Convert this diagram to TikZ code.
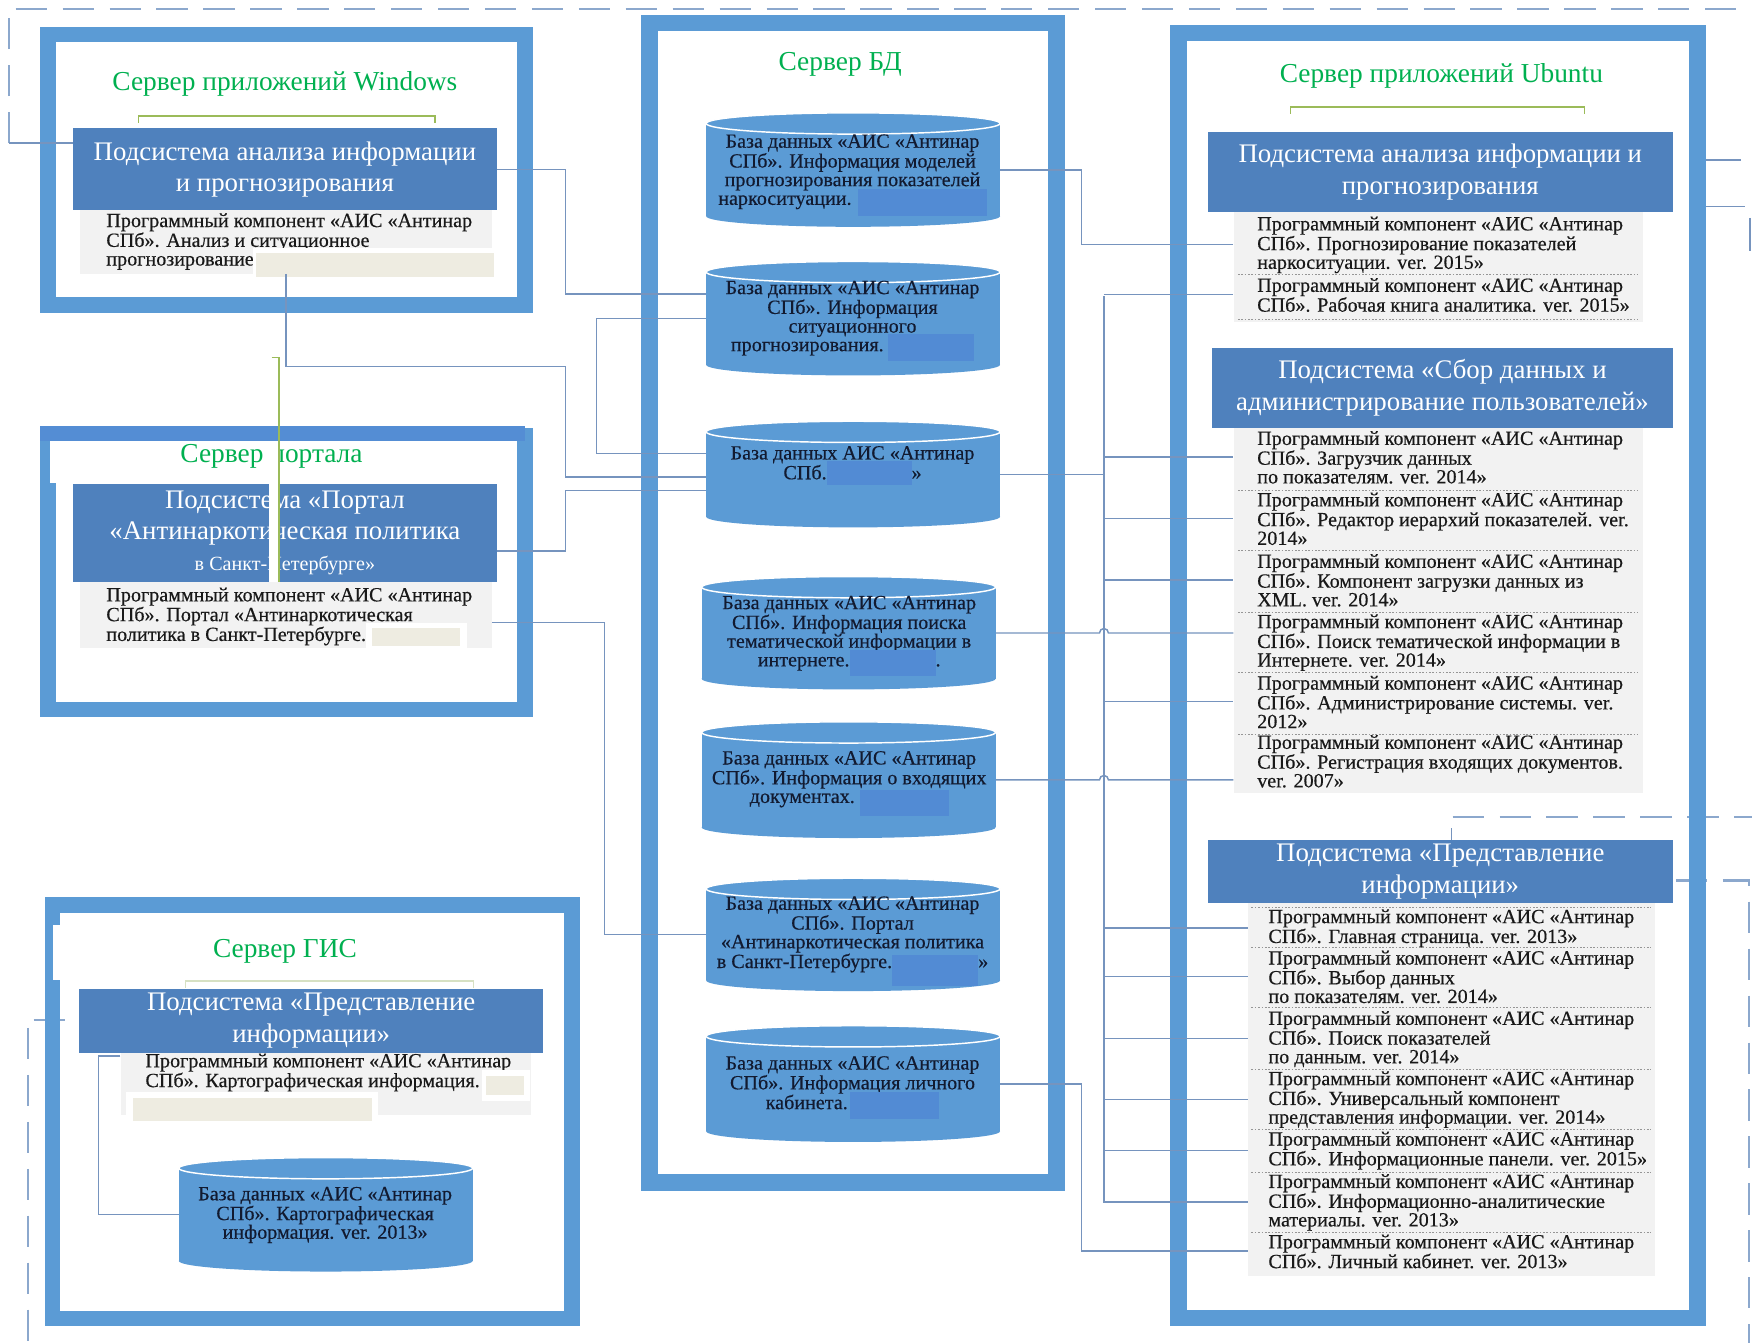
\documentclass[tikz,border=0pt]{standalone}
\usepackage{fontspec}
\setmainfont{Liberation Serif}
\newfontfamily\bodyfam{Liberation Serif}[FakeBold=0.4]
\usetikzlibrary{calc}
\definecolor{frameblue}{RGB}{91,155,213}
\definecolor{frametop}{RGB}{84,141,212}
\definecolor{hdrblue}{RGB}{79,129,189}
\definecolor{cylblue}{RGB}{91,155,213}
\definecolor{redblue}{RGB}{82,139,212}
\definecolor{beige}{RGB}{238,236,225}
\definecolor{greyfill}{RGB}{242,242,242}
\definecolor{connc}{RGB}{118,148,190}
\definecolor{dashc}{RGB}{140,168,205}
\definecolor{sepc}{RGB}{150,150,150}
\definecolor{titlegreen}{RGB}{0,176,80}
\definecolor{bracketc}{RGB}{155,187,89}
\definecolor{bracketl}{RGB}{215,225,195}
\definecolor{txtdark}{RGB}{25,25,25}
\definecolor{dbtext}{RGB}{18,26,48}
\newcommand\mybody{\bodyfam\fontsize{18}{16.7}\selectfont}
\newcommand\myhdr{\fontsize{24}{28}\selectfont}
\newcommand\myhdrs{\fontsize{18}{22}\selectfont}
\newcommand\myttl{\fontsize{24.5}{28}\selectfont}
\newcommand\myfl{\rule{0pt}{13pt}}
\newcommand\mypk{\myfl Программный компонент «АИС «Антинар}
\newcommand\myred[3]{\smash{\textcolor{redblue}{\rule[-#2pt]{#1pt}{#3pt}}}}
\newcommand\mycyl[5]{%
 \pgfmathsetmacro\cylcx{(#2+#3)/2}%
 \pgfmathsetmacro\cylrx{(#3-#2)/2}%
 \pgfmathsetmacro\cylcy{(#4+#5)/2}%
 \pgfmathsetmacro\cylw{#3-#2}%
 \pgfmathsetmacro\cylh{#5-#4}%
 \fill[cylblue] (#2,#4+9.5) rectangle (#3,#5-9.5);
 \fill[cylblue] (\cylcx,#5-9.5) ellipse [x radius=\cylrx, y radius=9.5];
 \filldraw[fill=cylblue, draw=white, line width=1.3pt] (\cylcx,#4+9.5) ellipse [x radius=\cylrx, y radius=9.5];
 \node[inner sep=0pt, minimum width=\cylw pt, minimum height=\cylh pt] (#1) at (\cylcx,\cylcy) {};
}
\begin{document}
\begin{tikzpicture}[x=1pt,y=-1pt,
 srvframe/.style={draw=frameblue, line width=14pt, inner sep=0pt},
 hdr/.style={fill=hdrblue, text=white, align=center, inner sep=0pt, font=\myhdr},
 greybox/.style={fill=greyfill, inner sep=0pt, draw=none},
 lst/.style={anchor=north west, align=left, inner sep=0pt, text=txtdark, font=\mybody},
 dbt/.style={anchor=north, align=center, inner sep=0pt, text=dbtext, font=\mybody},
 ttl/.style={text=titlegreen, font=\myttl, inner sep=0pt},
 conn/.style={draw=connc, line width=1.3pt},
 dashl/.style={draw=dashc, line width=2pt, dash pattern=on 28pt off 14pt},
 sepline/.style={draw=sepc, line width=0.8pt, dash pattern=on 1.5pt off 1.5pt},
 grnbracket/.style={draw=bracketc, line width=1.6pt}]
\useasboundingbox (0,0) rectangle (1568,1202);
\fill[white] (0,0) rectangle (1568,1202);

% outer dashed lines
\coordinate (tl) at (8,128);
\draw[dashl] (tl) -- (8,8) -- (1568,8);
\draw[dashl] (30,913) -- (62,913);
\draw[dashl] (25,920) -- (25,1202);
\draw[dashl] (1300,731) -- (1568,731);
\draw[dashl] (1500,788) -- (1565,788) -- (1565,1202);
\draw[conn] (1527,143) -- (1558,143);
\draw[conn] (1527,185) -- (1562,185);
\draw[conn] (1566,195) -- (1566,225);

% server frames
\node[srvframe, minimum width=427pt, minimum height=242pt] (wf) at (256.5,152) {};
\node[srvframe, minimum width=427pt, minimum height=245pt] (pf) at (256.5,512.5) {};
\node[srvframe, minimum width=465pt, minimum height=370pt] (gf) at (279.5,995) {};
\node[srvframe, line width=15pt, minimum width=364pt, minimum height=1038pt] (df) at (763.5,539.5) {};
\node[srvframe, line width=15pt, minimum width=465pt, minimum height=1150pt] (uf) at (1287,604.5) {};
\fill[frametop] (36,381) rectangle (470,395);
\fill[white] (45,395) rectangle (463,432);
\fill[white] (47,828) rectangle (400,877);

% titles
\node[ttl] (wtt) at (255,75) {Сервер приложений Windows};
\node[ttl] (ptt) at (243,408) {Сервер портала};
\node[ttl] (gtt) at (255,851) {Сервер ГИС};
\node[ttl] (dtt) at (752,58) {Сервер БД};
\node[ttl] (utt) at (1290,68) {Сервер приложений Ubuntu};

% brackets
\draw[grnbracket] (124,110) -- (124,104) -- (389,104) -- (389,110);
\draw[grnbracket] (1155,102) -- (1155,96) -- (1418,96) -- (1418,102);
\draw[draw=bracketl, line width=1.2pt] (166,884) -- (166,878) -- (424,878) -- (424,884);

% connector bend points
\draw[conn] (tl) -- (65,128);
\coordinate (a1) at (506,263);
\coordinate (a2) at (534,285);
\coordinate (a3) at (534,406);
\coordinate (a4) at (506,328);
\coordinate (a5) at (506,427);
\coordinate (a6) at (506,493);
\coordinate (a7) at (506,439);
\coordinate (a8) at (541,557);
\coordinate (a9) at (88,945);
\coordinate (k1) at (968,0);
\coordinate (busT) at (988,265);
\coordinate (busB) at (988,1077);

% grey boxes
\node[greybox, minimum width=368pt, minimum height=57pt] (wg) at (256,216.5) {};
\node[greybox, minimum width=368pt, minimum height=59pt] (pg) at (256,550.5) {};
\node[greybox, minimum width=367pt, minimum height=56pt] (gg) at (291.5,970) {};
\node[greybox, minimum width=366pt, minimum height=98pt] (ug1) at (1287,239) {};
\node[greybox, minimum width=366pt, minimum height=327pt] (ug2) at (1287,546.5) {};
\node[greybox, minimum width=364pt, minimum height=334pt] (ug3) at (1299,975) {};

% cylinders
\mycyl{db1}{632}{895}{101}{203}
\mycyl{db2}{632}{895}{234}{336}
\mycyl{db3}{632}{895}{377}{472}
\mycyl{db4}{628}{891}{516}{617}
\mycyl{db5}{628}{891}{646}{750}
\mycyl{db6}{632}{895}{786}{887}
\mycyl{db7}{632}{895}{918}{1022}
\mycyl{gdb}{160}{423}{1036}{1138}

% headers
\node[hdr, minimum width=380pt, minimum height=73pt] (wh) at (255,151.5) {Подсистема анализа информации\\и прогнозирования};
\node[hdr, minimum width=380pt, minimum height=88pt] (ph) at (255,477) {Подсистема «Портал\\«Антинаркотическая политика\\{\myhdrs в Санкт-Петербурге»}};
\node[hdr, minimum width=415pt, minimum height=57pt] (gh) at (278.5,913.5) {Подсистема «Представление\\информации»};
\node[hdr, minimum width=416pt, minimum height=72pt] (uh1) at (1289,154) {Подсистема анализа информации и\\прогнозирования};
\node[hdr, minimum width=412pt, minimum height=72pt] (uh2) at (1291,347) {Подсистема «Сбор данных и\\администрирование пользователей»};
\node[hdr, minimum width=416pt, minimum height=56pt] (uh3) at (1289,780) {Подсистема «Представление\\информации»};

% white strip and green line in portal
\fill[white] (241,397) rectangle (250,521);
\draw[grnbracket] (243,320) -- (250,320) -- (250,521);

% list texts
\node[lst] (wt) at (95,190) {\mypk\\СПб». Анализ и ситуационное\\прогнозирование};
\node[lst] (pt) at (95,525) {\mypk\\СПб». Портал «Антинаркотическая\\политика в Санкт-Петербурге.};
\node[lst] (gt) at (130,942) {\mypk\\СПб». Картографическая информация.};
\fill[white] (226,222) rectangle (442,248);
\fill[beige] (229,226) rectangle (442,248);
\fill[white] (328,558) rectangle (418,583);
\fill[beige] (333,562) rectangle (412,578);
\fill[white] (113,977) rectangle (338,1005);
\fill[beige] (119,983) rectangle (333,1003);
\fill[white] (431,958) rectangle (474,985);
\fill[beige] (435,963) rectangle (469,980);

\node[lst] (u1a) at (1125,193) {\mypk\\СПб». Прогнозирование показателей\\наркоситуации. ver. 2015»};
\node[lst] (u1b) at (1125,248) {\mypk\\СПб». Рабочая книга аналитика. ver. 2015»};
\node[lst] (u2a) at (1125,385) {\mypk\\СПб». Загрузчик данных\\по показателям. ver. 2014»};
\node[lst] (u2b) at (1125,440) {\mypk\\СПб». Редактор иерархий показателей. ver.\\2014»};
\node[lst] (u2c) at (1125,495) {\mypk\\СПб». Компонент загрузки данных из\\XML. ver. 2014»};
\node[lst] (u2d) at (1125,549) {\mypk\\СПб». Поиск тематической информации в\\Интернете. ver. 2014»};
\node[lst] (u2e) at (1125,604) {\mypk\\СПб». Администрирование системы. ver.\\2012»};
\node[lst] (u2f) at (1125,657) {\mypk\\СПб». Регистрация входящих документов.\\ver. 2007»};
\node[lst] (u3a) at (1135,813) {\mypk\\СПб». Главная страница. ver. 2013»};
\node[lst] (u3b) at (1135,850) {\mypk\\СПб». Выбор данных\\по показателям. ver. 2014»};
\node[lst] (u3c) at (1135,904) {\mypk\\СПб». Поиск показателей\\по данным. ver. 2014»};
\node[lst] (u3d) at (1135,958) {\mypk\\СПб». Универсальный компонент\\представления информации. ver. 2014»};
\node[lst] (u3e) at (1135,1012) {\mypk\\СПб». Информационные панели. ver. 2015»};
\node[lst] (u3f) at (1135,1050) {\mypk\\СПб». Информационно-аналитические\\материалы. ver. 2013»};
\node[lst] (u3g) at (1135,1104) {\mypk\\СПб». Личный кабинет. ver. 2013»};

\foreach \yy in {246,286,439,493,548,602,657} \draw[sepline] (1108,\yy) -- (1466,\yy);
\foreach \yy in {812,848,902,957,1011,1049,1103} \draw[sepline] (1120,\yy) -- (1478,\yy);

% DB texts
\node[dbt] (t1) at (763,119) {\myfl База данных «АИС «Антинар\\СПб». Информация моделей\\прогнозирования показателей\\наркоситуации.\hspace{6pt}\myred{115}{10}{24}};
\node[dbt] (t2) at (763,250) {\myfl База данных «АИС «Антинар\\СПб». Информация\\ситуационного\\прогнозирования.\hspace{4pt}\myred{77}{9}{24}};
\node[dbt] (t3) at (763,398) {\myfl База данных АИС «Антинар\\СПб.\myred{76}{5}{21}»};
\node[dbt] (t4) at (760,532) {\myfl База данных «АИС «Антинар\\СПб». Информация поиска\\тематической информации в\\интернете.\myred{77}{9}{24}.};
\node[dbt] (t5) at (760,671) {\myfl База данных «АИС «Антинар\\СПб». Информация о входящих\\документах.\hspace{5pt}\myred{79}{12}{24}};
\node[dbt] (t6) at (763,801) {\myfl База данных «АИС «Антинар\\СПб». Портал\\«Антинаркотическая политика\\в Санкт-Петербурге.\myred{77}{16}{28}»};
\node[dbt] (t7) at (763,944) {\myfl База данных «АИС «Антинар\\СПб». Информация личного\\кабинета.\hspace{2pt}\myred{80}{9}{24}};
\node[dbt] (tg) at (291,1061) {\myfl База данных «АИС «Антинар\\СПб». Картографическая\\информация. ver. 2013»};

% connectors left
\draw[conn] (wh.east) -| (a1) -- (a1 -| db2.west);
\draw[conn] (db2.west) -- (a2) -- (a3) -- (a3 -| db3.west);
\draw[conn] (wg.south) |- (a4) -- (a5) -- (a5 -| db3.west);
\draw[conn] (a6 -| ph.east) -- (a6) -- (a7) -- (a7 -| db3.west);
\draw[conn] (a8 -| pg.east) -- (a8) |- (db6.west);
\draw[conn] (a9 -| gg.west) -- (a9) |- (gdb.west);

% connectors right
\draw[conn] (busT) -- (busB);
\draw[conn] (db1.east) -- (db1.east -| k1) |- (u1a.west -| ug1.west);
\draw[conn] (db7.east) -- (db7.east -| k1) |- (u3g.west -| ug3.west);
\draw[conn] (db3.east) -- (db3.east -| busT);
\draw[conn] (u1b.west -| busT) -- (u1b.west -| ug1.west);
\foreach \nn in {u2a,u2b,u2c,u2e} \draw[conn] (\nn.west -| busT) -- (\nn.west -| ug2.west);
\foreach \nn in {u3a,u3b,u3c,u3d,u3e,u3f} \draw[conn] (\nn.west -| busT) -- (\nn.west -| ug3.west);
\draw[conn] (db4.east) -- ($(db4.east -| busT)+(-4,0)$) arc[start angle=180, end angle=360, radius=4] -- (db4.east -| ug2.west);
\draw[conn] (db5.east) -- ($(db5.east -| busT)+(-4,0)$) arc[start angle=180, end angle=360, radius=4] -- (db5.east -| ug2.west);
\draw[conn] (uh3.north -| 1299,0) -- (1299,741);
\end{tikzpicture}
\end{document}
